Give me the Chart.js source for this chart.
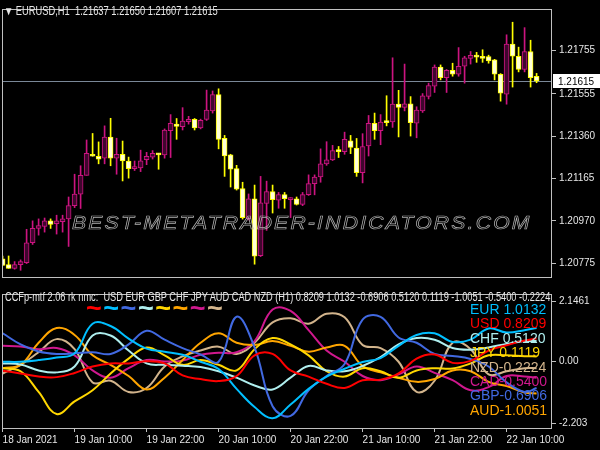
<!DOCTYPE html>
<html>
<head>
<meta charset="utf-8">
<script src="https://cdn.jsdelivr.net/npm/chart.js@4.4.1/dist/chart.umd.min.js"></script>
<style>
body{margin:0;background:#000;width:600px;height:450px;overflow:hidden;position:relative;
font-family:'Liberation Sans',Arial,sans-serif;}
#topBox{position:absolute;left:0;top:0;width:600px;height:286px;}
#botBox{position:absolute;left:0;top:285px;width:600px;height:165px;}
.txt{position:absolute;white-space:pre;color:#e6e6e6;font-size:12px;line-height:14px;transform-origin:0 0;}
.val{position:absolute;left:470px;white-space:pre;font-size:14px;line-height:14px;}
.wave{position:absolute;top:295px;font-weight:bold;font-size:27px;line-height:27px;}
#mark{position:absolute;left:72px;top:212px;white-space:pre;
font-style:italic;font-size:19px;line-height:22px;letter-spacing:2px;color:transparent;
-webkit-text-stroke:0.7px #b0b0b0;transform-origin:0 0;}
</style>
</head>
<body>
<div id="topBox"><canvas id="priceChart"></canvas></div>
<div id="botBox"><canvas id="ccfChart"></canvas></div>
<div class="txt fit" data-w="214" style="left:4px;top:4px;">▼ EURUSD,H1  1.21637 1.21650 1.21607 1.21615</div>
<div id="mark">BEST-METATRADER-INDICATORS.COM</div>
<div class="txt fit" data-w="545" style="left:5px;top:290px;">CCFp-mtf 2.06 rk nmc:  USD EUR GBP CHF JPY AUD CAD NZD (H1) 0.8209 1.0132 -0.6906 0.5120 0.1119 -1.0051 -0.5400 -0.2224</div>
<div id="waves"></div>
<div id="vals"></div>
<script>

// EURUSD H1 candles, 18 Jan 22:00 .. 22 Jan 15:00
const open = [
1.20795,1.20768,1.20751,1.20768,1.20777,1.20869,1.20935,1.20944,1.20970,1.20957,
1.20966,1.20979,1.21040,1.21093,1.21180,1.21277,1.21268,1.21259,1.21356,1.21259,
1.21277,1.21246,1.21211,1.21214,1.21252,1.21264,1.21280,1.21274,1.21386,1.21416,
1.21404,1.21427,1.21438,1.21398,1.21438,1.21477,1.21552,1.21350,1.21274,1.21211,
1.21119,1.20980,1.21072,1.20809,1.21050,1.21105,1.21065,1.21091,1.21068,1.21072,
1.21046,1.21091,1.21142,1.21172,1.21233,1.21251,1.21294,1.21289,1.21339,1.21306,
1.21192,1.21316,1.21420,1.21386,1.21429,1.21426,1.21508,1.21493,1.21510,1.21420,
1.21477,1.21544,1.21591,1.21679,1.21630,1.21664,1.21646,1.21683,1.21719,1.21733,
1.21728,1.21728,1.21712,1.21646,1.21554,1.21785,1.21729,1.21668,1.21751,1.21637];

const high = [
1.20808,1.20808,1.20782,1.20790,1.20931,1.20970,1.20979,1.20983,1.20979,1.20996,
1.20996,1.21080,1.21185,1.21224,1.21343,1.21373,1.21334,1.21408,1.21443,1.21351,
1.21338,1.21264,1.21246,1.21296,1.21286,1.21294,1.21281,1.21394,1.21460,1.21442,
1.21492,1.21452,1.21442,1.21439,1.21573,1.21569,1.21579,1.21364,1.21277,1.21226,
1.21148,1.21094,1.21135,1.21175,1.21153,1.21135,1.21101,1.21101,1.21077,1.21080,
1.21101,1.21182,1.21182,1.21302,1.21335,1.21318,1.21313,1.21379,1.21364,1.21350,
1.21372,1.21456,1.21467,1.21460,1.21547,1.21722,1.21572,1.21693,1.21543,1.21496,
1.21557,1.21605,1.21689,1.21689,1.21668,1.21697,1.21769,1.21729,1.21751,1.21747,
1.21759,1.21734,1.21715,1.21649,1.21828,1.21886,1.21771,1.21861,1.21803,1.21650];

const low = [
1.20764,1.20751,1.20747,1.20742,1.20773,1.20861,1.20904,1.20918,1.20935,1.20909,
1.20918,1.20852,1.21031,1.21027,1.21180,1.21268,1.21233,1.21233,1.21224,1.21185,
1.21154,1.21167,1.21202,1.21197,1.21229,1.21255,1.21208,1.21259,1.21262,1.21346,
1.21389,1.21416,1.21389,1.21394,1.21433,1.21467,1.21302,1.21175,1.21126,1.21112,
1.20978,1.20974,1.20770,1.20805,1.20926,1.21006,1.21028,1.21028,1.20985,1.21043,
1.21040,1.21087,1.21090,1.21148,1.21226,1.21248,1.21262,1.21277,1.21280,1.21175,
1.21145,1.21269,1.21346,1.21321,1.21408,1.21401,1.21357,1.21477,1.21361,1.21353,
1.21470,1.21532,1.21562,1.21620,1.21562,1.21637,1.21637,1.21605,1.21693,1.21701,
1.21701,1.21697,1.21620,1.21522,1.21508,1.21587,1.21657,1.21657,1.21587,1.21607];

const close = [
1.20764,1.20751,1.20768,1.20782,1.20869,1.20935,1.20948,1.20970,1.20953,1.20970,
1.20979,1.21040,1.21093,1.21180,1.21281,1.21268,1.21255,1.21356,1.21259,1.21277,
1.21246,1.21211,1.21220,1.21247,1.21267,1.21281,1.21274,1.21389,1.21420,1.21405,
1.21430,1.21438,1.21398,1.21433,1.21481,1.21552,1.21346,1.21269,1.21208,1.21116,
1.20985,1.21072,1.20807,1.21053,1.21105,1.21068,1.21091,1.21072,1.21072,1.21046,
1.21091,1.21142,1.21172,1.21233,1.21251,1.21294,1.21289,1.21346,1.21309,1.21192,
1.21313,1.21420,1.21386,1.21426,1.21423,1.21508,1.21493,1.21510,1.21423,1.21481,
1.21547,1.21594,1.21679,1.21630,1.21664,1.21646,1.21683,1.21722,1.21733,1.21725,
1.21719,1.21708,1.21646,1.21559,1.21785,1.21729,1.21668,1.21751,1.21630,1.21615];

const priceTicks = [1.21755,1.21555,1.21360,1.21165,1.20970,1.20775];

// bar index of each time label on the bottom axis
const timeTickIdx = [0,12,24,36,48,60,72,84];
const timeTickLabels = ["18 Jan 2021","19 Jan 10:00","19 Jan 22:00","20 Jan 10:00",
"20 Jan 22:00","21 Jan 10:00","21 Jan 22:00","22 Jan 10:00"];

// CCFp lines, read every 3rd bar
const sampleIdx = [0,3,6,9,12,15,18,21,24,27,30,33,36,39,42,45,48,51,54,57,60,63,66,69,72,75,78,81,84,87,89];

const usd = [-0.33,-0.43,-0.54,-0.56,-0.41,-0.18,-0.07,-0.07,0.01,-0.07,-0.50,-0.63,-0.70,-0.52,0.22,0.27,-0.32,-0.54,-0.80,-0.95,-0.67,-0.65,-0.43,0.10,0.25,-0.05,0.02,0.39,0.58,0.75,0.82];
const eur = [-0.01,-0.01,0.05,0.14,0.29,1.35,1.27,0.82,0.46,0.35,0.24,-0.01,-0.27,-0.98,-1.63,-2.03,-1.54,-0.98,-0.54,-0.26,-0.02,0.12,0.56,0.95,1.01,0.70,0.78,1.18,1.04,1.12,1.20];
const gbp = [1.01,0.61,0.36,0.27,0.29,0.33,0.27,0.61,1.10,0.78,0.48,0.25,-0.01,1.60,0.50,-1.60,-1.95,-1.03,-0.52,-0.09,1.50,1.60,0.86,0.67,0.27,0.20,0.09,-0.18,-0.75,-1.09,-0.95];
const chf = [-0.07,-0.11,-0.32,-0.39,-0.18,0.93,0.93,0.39,-0.07,-0.12,-0.15,-0.20,-0.35,-0.58,-0.86,-1.00,-0.58,-0.16,-0.32,-0.35,-0.16,0.16,0.61,0.84,0.78,0.48,0.42,0.50,0.63,0.73,0.73];
const jpy = [-0.24,-0.35,-1.09,-1.88,-1.43,-1.03,-0.43,0.10,0.50,0.22,-0.12,0.05,-0.12,-0.32,0.44,0.84,0.61,0.22,-0.35,-0.54,-0.24,-0.35,-0.58,-0.32,-0.24,-0.25,-0.07,0.22,0.22,0.19,0.18];
const aud = [-0.24,-0.12,0.67,1.20,0.95,0.22,-0.12,-0.52,-1.00,-0.58,0.05,0.67,1.01,0.67,0.59,0.73,0.56,0.35,0.50,0.56,-0.16,-0.39,-0.58,-0.73,-0.63,-0.32,-0.35,-0.73,-0.88,-1.11,-1.15];
const cad = [0.56,0.54,0.44,0.48,0.22,-0.32,-0.58,-0.24,0.05,0.00,0.03,0.24,0.31,0.33,0.73,1.86,1.81,1.12,0.39,-0.01,-0.52,-0.67,-0.46,-0.18,-0.41,-0.67,-1.03,-0.92,-0.52,-0.54,-0.58];
const nzd = [-0.43,-0.12,0.33,0.80,0.44,-0.75,-0.69,-1.09,-0.95,-0.18,0.18,0.39,0.53,0.27,0.67,1.40,1.55,1.35,1.71,1.58,0.59,0.48,-0.01,-1.09,-0.69,0.67,0.44,-0.46,-0.35,-0.24,-0.24];

const currencies = ["USD","EUR","GBP","CHF","JPY","AUD","CAD","NZD"];
const lineColors = ["#ff0000","#00bfff","#4169e1","#afeeee","#ffd700","#ffa500","#d0188e","#d2b48c"];

// legend on the right, top to bottom
const sideNames = ["EUR 1.0132","USD 0.8209","CHF 0.5120","JPY 0.1119","NZD-0.2224","CAD-0.5400","GBP-0.6906","AUD-1.0051"];
const sideColors = ["#00bfff","#ff0000","#afeeee","#ffd700","#d2b48c","#d0188e","#4169e1","#ffa500"];

const ccfTicks = [2.1461,0,-2.203];
const ccfTickLabels = ["2.1461","0.00","-2.203"];

const axisFont = {family:"'Liberation Sans',Arial,sans-serif",size:10};
const axisColor = "#e6e6e6";
const frameColor = "#c0c0c0";

const bullLine = "#cc1480";
const bullFill = "#40062e";
const bearLine = "#ffff00";
const bearFill = "#ffffd8";

const framePlugin = {
id:"frame",
afterDraw(chart){
const a = chart.chartArea;
const ctx = chart.ctx;
ctx.save();
ctx.strokeStyle = frameColor;
ctx.lineWidth = 1;
ctx.strokeRect(a.left+0.5,a.top+0.5,a.right-a.left-1,a.bottom-a.top);
ctx.restore();
}
};

const priceLinePlugin = {
id:"priceLine",
beforeDatasetsDraw(chart){
const a = chart.chartArea;
const ctx = chart.ctx;
const y = Math.round(chart.scales.y.getPixelForValue(close[close.length-1]))+0.5;
ctx.save();
ctx.strokeStyle = "#7a8898";
ctx.lineWidth = 1;
ctx.beginPath();
ctx.moveTo(a.left,y);
ctx.lineTo(a.right,y);
ctx.stroke();
ctx.restore();
},
afterDraw(chart){
const a = chart.chartArea;
const ctx = chart.ctx;
const y = Math.round(chart.scales.y.getPixelForValue(close[close.length-1]));
ctx.save();
ctx.fillStyle = "#ffffff";
ctx.fillRect(a.right+1,y-7,600-a.right-1,14);
ctx.fillStyle = "#000000";
ctx.font = "10px " + axisFont.family;
ctx.textBaseline = "middle";
ctx.fillText(close[close.length-1].toFixed(5),a.right+6,y+1);
ctx.restore();
}
};

function drawPrice(){

const lineCol = open.map((o,i)=>close[i]>=o?bullLine:bearLine);
const fillCol = open.map((o,i)=>close[i]>=o?bullFill:bearFill);

new Chart(document.getElementById("priceChart"),{
type:"bar",
data:{
datasets:[
{
label:"body",
data:open.map((o,i)=>({x:i,y:[Math.min(o,close[i]),Math.max(o,close[i])]})),
backgroundColor:fillCol,
borderColor:lineCol,
borderWidth:1,
borderSkipped:false,
barThickness:5,
minBarLength:2,
grouped:false
},
{
label:"wick",
data:open.map((o,i)=>({x:i,y:[low[i],high[i]]})),
backgroundColor:lineCol,
borderWidth:0,
barThickness:1,
minBarLength:1,
grouped:false
}
]
},
options:{
animation:false,
responsive:true,
maintainAspectRatio:false,
devicePixelRatio:1,
layout:{padding:{left:2,top:2,right:0,bottom:2}},
plugins:{legend:{display:false},tooltip:{enabled:false}},
scales:{
x:{type:"linear",min:-0.1,max:91.57,offset:false,display:false},
y:{
position:"right",
min:1.20711,
max:1.21947,
afterBuildTicks:s=>{s.ticks=priceTicks.map(v=>({value:v}));},
afterFit:s=>{s.width=48;},
border:{display:false},
grid:{drawOnChartArea:false,color:frameColor,tickLength:4},
ticks:{color:axisColor,font:axisFont,padding:3,autoSkip:false,callback:v=>v.toFixed(5)}
}
}
},
plugins:[framePlugin,priceLinePlugin]
});

}

function drawCcf(){

const series = [usd,eur,gbp,chf,jpy,aud,cad,nzd];

new Chart(document.getElementById("ccfChart"),{
type:"line",
data:{
datasets:currencies.map((c,k)=>({
label:c,
data:sampleIdx.map((ix,j)=>({x:ix,y:series[k][j]})),
borderColor:lineColors[k],
borderWidth:2,
pointRadius:0,
tension:0.4,
fill:false
}))
},
options:{
animation:false,
responsive:true,
maintainAspectRatio:false,
devicePixelRatio:1,
layout:{padding:{left:2,top:2,right:0,bottom:0}},
plugins:{legend:{display:false},tooltip:{enabled:false}},
scales:{
x:{
type:"linear",
min:-0.1,
max:91.57,
offset:false,
afterBuildTicks:s=>{s.ticks=timeTickIdx.map(v=>({value:v}));},
afterFit:s=>{s.height=22;},
border:{display:false},
grid:{drawOnChartArea:false,color:frameColor,tickLength:4},
ticks:{color:axisColor,font:axisFont,padding:2,align:"start",maxRotation:0,autoSkip:false,
callback:(v,i)=>timeTickLabels[i]}
},
y:{
position:"right",
min:-2.381,
max:2.415,
afterBuildTicks:s=>{s.ticks=ccfTicks.map(v=>({value:v}));},
afterFit:s=>{s.width=48;},
border:{display:false},
grid:{drawOnChartArea:false,color:frameColor,tickLength:4},
ticks:{color:axisColor,font:axisFont,padding:3,autoSkip:false,callback:(v,i)=>ccfTickLabels[i]}
}
}
},
plugins:[framePlugin]
});

}

function drawLabels(){

const waves = document.getElementById("waves");
lineColors.forEach((c,k)=>{
const d = document.createElement("div");
d.className = "wave";
d.style.left = (86+k*17.3)+"px";
d.style.color = c;
d.textContent = "~";
waves.appendChild(d);
});

const vals = document.getElementById("vals");
sideNames.forEach((t,k)=>{
const d = document.createElement("div");
d.className = "val";
d.style.top = (302+k*14.4)+"px";
d.style.color = sideColors[k];
d.textContent = t;
vals.appendChild(d);
});

document.querySelectorAll(".fit").forEach(el=>{
el.style.transform = "scaleX("+(Number(el.dataset.w)/el.offsetWidth)+")";
});

const mark = document.getElementById("mark");
mark.style.transform = "scaleX("+(460/mark.offsetWidth)+")";

}

drawPrice();
drawCcf();
drawLabels();

</script>
</body>
</html>
